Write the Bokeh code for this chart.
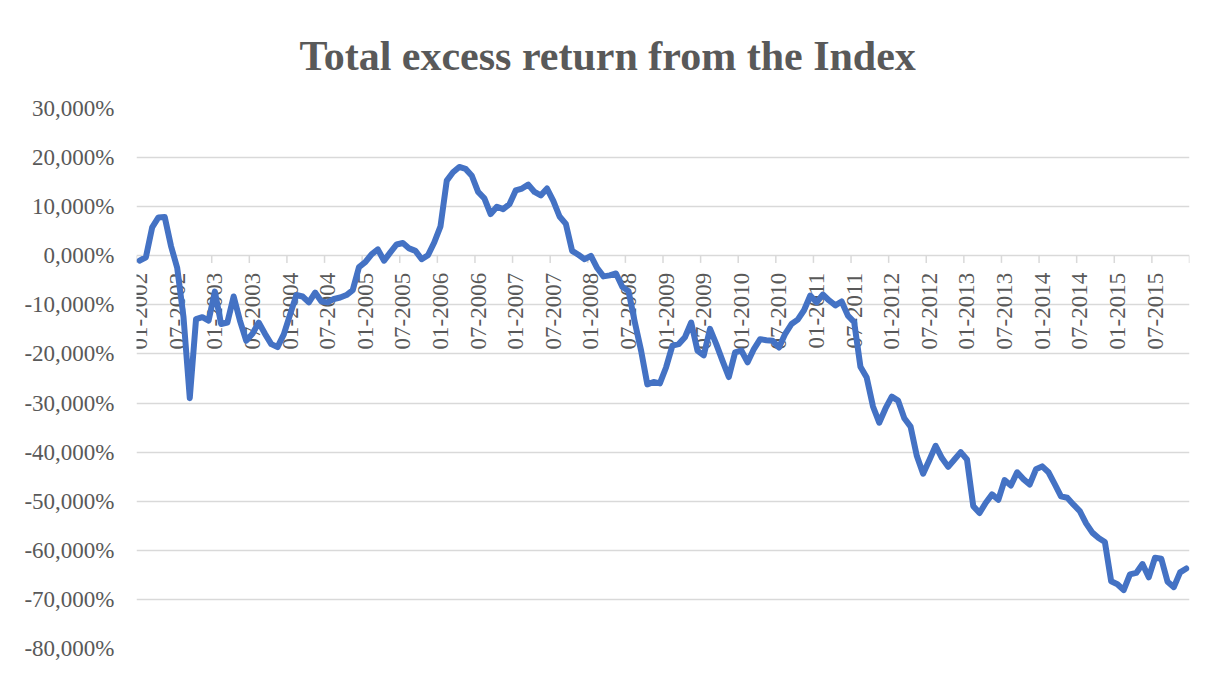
import math
from bokeh.plotting import figure
from bokeh.models import ColumnDataSource, FixedTicker, Range1d
from bokeh.core.properties import value
from bokeh.embed import file_html
from bokeh.resources import INLINE

# ---- data -------------------------------------------------------------
months = [f"{m:02d}-{y}" for y in range(2002, 2016) for m in range(1, 13)]

excess_return = [
    -1.0, -0.3, 5.8, 7.8, 7.9, 2.0, -2.5, -12.5, -29.0, -12.9, -12.5, -13.2,
    -7.3, -13.9, -13.6, -8.3, -13.2, -17.3, -15.9, -13.6, -15.9, -18.0, -18.6, -16.0,
    -12.0, -8.0, -8.3, -9.5, -7.5, -9.3, -9.5, -8.8, -8.5, -8.0, -7.0, -2.3,
    -1.3, 0.3, 1.3, -1.0, 0.7, 2.3, 2.6, 1.5, 1.0, -0.7, 0.1, 2.7,
    6.0, 15.3, 17.0, 18.1, 17.7, 16.3, 13.0, 11.7, 8.5, 10.0, 9.5, 10.5,
    13.3, 13.7, 14.5, 13.0, 12.3, 13.7, 11.2, 8.0, 6.5, 1.0, 0.2, -0.7,
    0.0, -2.5, -4.2, -4.0, -3.6, -6.3, -7.2, -13.5, -19.3, -26.2, -25.7, -26.0,
    -22.7, -18.3, -18.0, -16.6, -13.6, -19.3, -20.3, -14.9, -18.0, -21.4, -24.7, -19.7,
    -19.3, -21.7, -19.0, -17.0, -17.2, -17.3, -18.7, -15.9, -13.9, -13.0, -11.1, -8.1,
    -9.5, -7.9, -9.1, -10.1, -9.3, -12.2, -13.5, -22.6, -24.8, -30.7, -34.0, -31.1,
    -28.7, -29.5, -33.1, -34.8, -40.8, -44.4, -41.6, -38.7, -41.2, -43.0, -41.5, -40.0,
    -41.5, -51.0, -52.4, -50.3, -48.6, -49.7, -45.7, -46.8, -44.1, -45.5, -46.6, -43.5,
    -42.9, -44.1, -46.5, -49.0, -49.3, -50.7, -52.0, -54.5, -56.4, -57.5, -58.3, -66.3,
    -66.9, -68.1, -64.9, -64.6, -62.8, -65.5, -61.5, -61.7, -66.4, -67.5, -64.5, -63.7,
]

x_tick_labels = [
    "01-2002", "07-2002", "01-2003", "07-2003", "01-2004", "07-2004", "01-2005",
    "07-2005", "01-2006", "07-2006", "01-2007", "07-2007", "01-2008", "07-2008",
    "01-2009", "07-2009", "01-2010", "07-2010", "01-2011", "07-2011", "01-2012",
    "07-2012", "01-2013", "07-2013", "01-2014", "07-2014", "01-2015", "07-2015",
]

y_ticks = [30, 20, 10, 0, -10, -20, -30, -40, -50, -60, -70, -80]
y_tick_labels = [
    "30,000%", "20,000%", "10,000%", "0,000%", "-10,000%", "-20,000%",
    "-30,000%", "-40,000%", "-50,000%", "-60,000%", "-70,000%", "-80,000%",
]

title_text = "Total excess return from the Index"

# ---- styling ----------------------------------------------------------
FONT = "Liberation Serif"
TEXT_COLOR = "#595959"
GRID_COLOR = "#d9d9d9"
LINE_COLOR = "#4472C4"
LABEL_EVERY = 6

n = len(months)
xs = [i + 0.5 for i in range(n)]

p = figure(
    width=1204, height=666,
    output_backend="svg", toolbar_location=None,
    x_range=Range1d(0, n), y_range=Range1d(min(y_ticks), max(y_ticks)),
    min_border_left=136, min_border_right=15,
    min_border_top=107, min_border_bottom=18,
)
p.outline_line_color = None
p.background_fill_color = "white"
p.border_fill_color = "white"

# title
p.title.text = title_text
p.title.text_font = FONT
p.title.text_font_size = "42px"
p.title.text_font_style = "bold"
p.title.text_color = TEXT_COLOR
p.title.align = "left"
p.title.offset = 163
p.title.standoff = 60

# y axis
ticker = FixedTicker(ticks=y_ticks)
p.yaxis.ticker = ticker
p.yaxis.major_label_overrides = {t: lab for t, lab in zip(y_ticks, y_tick_labels)}
p.yaxis.major_label_text_font = FONT
p.yaxis.major_label_text_font_size = "23px"
p.yaxis.major_label_text_color = TEXT_COLOR
p.yaxis.axis_line_color = None
p.yaxis.major_tick_line_color = None
p.yaxis.minor_tick_line_color = None
p.yaxis.major_label_standoff = 16

p.xaxis.visible = False
p.xgrid.visible = False
p.ygrid.ticker = ticker
p.ygrid.grid_line_color = GRID_COLOR
p.ygrid.grid_line_width = 1.5

# category axis crossing at 0: tick marks and rotated labels
tick_pos = list(range(0, n + 1, LABEL_EVERY))
p.segment(x0=tick_pos, y0=[0] * len(tick_pos), x1=tick_pos, y1=[-1.45] * len(tick_pos),
          line_color=GRID_COLOR, line_width=1.5)

label_src = ColumnDataSource(dict(
    x=[xs[i] for i in range(0, n, LABEL_EVERY)],
    y=[0] * len(x_tick_labels),
    text=x_tick_labels,
))
p.text(x="x", y="y", text="text", source=label_src, angle=math.pi / 2,
       text_align="right", text_baseline="middle", y_offset=17,
       text_font=value(FONT), text_font_size="23px", text_color=TEXT_COLOR)

# series
p.line(xs, excess_return, line_color=LINE_COLOR, line_width=6,
       line_join="round", line_cap="round")

open("out.html", "w").write(file_html(p, INLINE))
